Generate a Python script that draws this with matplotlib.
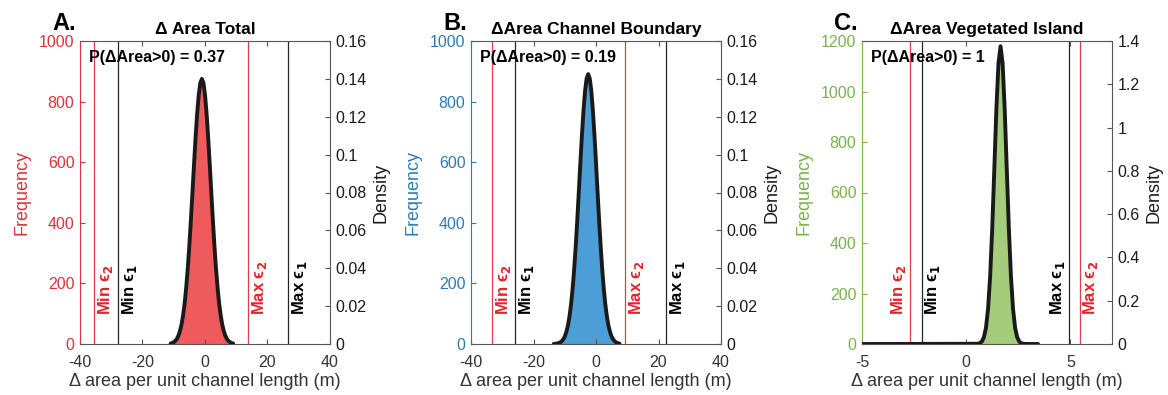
import numpy as np
import matplotlib
matplotlib.use("Agg")
import matplotlib.pyplot as plt
from matplotlib.ticker import FixedLocator, FixedFormatter

plt.rcParams['font.family'] = ['Liberation Sans', 'DejaVu Sans']
plt.rcParams['mathtext.fontset'] = 'dejavusans'
plt.rcParams['axes.unicode_minus'] = False

# ---- panel A : total area change ----
a_centers = np.arange(-11.0, 9.01, 0.5)
a_counts = [2, 4, 6, 11, 17, 27, 44, 66, 95, 137, 187, 254, 325, 414, 501, 598,
            682, 765, 820, 864, 873, 860, 824, 759, 686, 594, 505, 410, 329, 250,
            189, 135, 97, 64, 43, 29, 16, 10, 6, 3, 2]
a_density = [0.0003, 0.0005, 0.001, 0.0016, 0.0027, 0.0044, 0.0069, 0.0104, 0.0153,
             0.0217, 0.0301, 0.0403, 0.0523, 0.0659, 0.0805, 0.0953, 0.1095, 0.1219,
             0.1316, 0.1379, 0.140, 0.1379, 0.1316, 0.1219, 0.1095, 0.0953, 0.0805,
             0.0659, 0.0523, 0.0403, 0.0301, 0.0217, 0.0153, 0.0104, 0.0069, 0.0044,
             0.0027, 0.0016, 0.001, 0.0005, 0.0003]
a_eps = [-35.4, -27.7, 13.9, 26.7]
a_prob = "0.37"

# ---- panel B : channel boundary ----
b_centers = np.arange(-13.5, 7.51, 0.5)
b_counts = [0, 1, 2, 3, 5, 9, 15, 24, 39, 60, 90, 129, 181, 245, 321, 408, 502, 598,
            690, 771, 836, 876, 891, 876, 836, 771, 690, 598, 502, 408, 321, 245,
            181, 129, 90, 60, 39, 24, 15, 9, 5, 3, 2]
b_density = [0.00007, 0.00013, 0.00024, 0.00045, 0.0008, 0.0014, 0.0024, 0.0039,
             0.0063, 0.0096, 0.0144, 0.0207, 0.0289, 0.0392, 0.0514, 0.0652, 0.0803,
             0.0957, 0.1104, 0.1234, 0.1337, 0.1402, 0.1425, 0.1402, 0.1337, 0.1234,
             0.1104, 0.0957, 0.0803, 0.0652, 0.0514, 0.0392, 0.0289, 0.0207, 0.0144,
             0.0096, 0.0063, 0.0039, 0.0024, 0.0014, 0.0008, 0.00045, 0.00024]
b_eps = [-33.2, -25.8, 9.3, 22.4]
b_prob = "0.19"

# ---- panel C : vegetated island ----
c_centers = np.arange(0.55, 2.851, 0.1)
c_counts = [1, 3, 10, 26, 64, 139, 267, 455, 690, 930, 1111, 1179,
            1111, 930, 690, 455, 267, 139, 64, 26, 10, 3, 1, 0]
c_density = [0.001, 0.0036, 0.0111, 0.0306, 0.0747, 0.1618, 0.3113, 0.5314, 0.8056,
             1.0846, 1.2963, 1.3757, 1.2963, 1.0846, 0.8056, 0.5314, 0.3113, 0.1618,
             0.0747, 0.0306, 0.0111, 0.0036, 0.001, 0.0003]
c_curve_range = [-5.0, 3.45]
c_eps = [-2.70, -2.14, 4.93, 5.44]
c_prob = "1"

eps_labels = [r'Min ϵ$_\mathbf{2}$', r'Min ϵ$_\mathbf{1}$', r'Max ϵ$_\mathbf{2}$', r'Max ϵ$_\mathbf{1}$']
c_eps_labels = [r'Min ϵ$_\mathbf{2}$', r'Min ϵ$_\mathbf{1}$', r'Max ϵ$_\mathbf{1}$', r'Max ϵ$_\mathbf{2}$']

RED_LINE = '#d9414a'
RED_TEXT = '#e3242b'
DARK = '#262626'
SPINE = '#555555'

panels = [
    dict(letter='A.', title='Δ Area Total', centers=a_centers, width=0.5,
         counts=a_counts, dens=a_density, curve_x=None, eps=a_eps, labels=eps_labels,
         eps_red=[True, False, True, False], sides=[1, 1, 1, 1], prob=a_prob,
         fill='#ef5a5c', axcol='#d8333b', xlim=(-40, 40), xticks=[-40, -20, 0, 20, 40],
         ylim=1000, yticks=[0, 200, 400, 600, 800, 1000], dlim=0.16,
         dticks=[0, 0.02, 0.04, 0.06, 0.08, 0.1, 0.12, 0.14, 0.16],
         dlabels=['0', '0.02', '0.04', '0.06', '0.08', '0.1', '0.12', '0.14', '0.16'],
         left=80),
    dict(letter='B.', title='ΔArea Channel Boundary', centers=b_centers, width=0.5,
         counts=b_counts, dens=b_density, curve_x=None, eps=b_eps, labels=eps_labels,
         eps_red=[True, False, True, False], sides=[1, 1, 1, 1], prob=b_prob,
         fill='#4d9ed6', axcol='#2a7bb3', xlim=(-40, 40), xticks=[-40, -20, 0, 20, 40],
         ylim=1000, yticks=[0, 200, 400, 600, 800, 1000], dlim=0.16,
         dticks=[0, 0.02, 0.04, 0.06, 0.08, 0.1, 0.12, 0.14, 0.16],
         dlabels=['0', '0.02', '0.04', '0.06', '0.08', '0.1', '0.12', '0.14', '0.16'],
         left=471),
    dict(letter='C.', title='ΔArea Vegetated Island', centers=c_centers, width=0.1,
         counts=c_counts, dens=c_density, curve_x=c_curve_range, eps=c_eps, labels=c_eps_labels,
         eps_red=[True, False, False, True], sides=[-1, 1, -1, 1], prob=c_prob,
         fill='#a4cc7a', axcol='#79b24a', xlim=(-5, 7), xticks=[-5, 0, 5],
         ylim=1200, yticks=[0, 200, 400, 600, 800, 1000, 1200], dlim=1.4,
         dticks=[0, 0.2, 0.4, 0.6, 0.8, 1.0, 1.2, 1.4],
         dlabels=['0', '0.2', '0.4', '0.6', '0.8', '1', '1.2', '1.4'],
         left=862),
]

W, H = 1168, 395
fig = plt.figure(figsize=(W / 100, H / 100), dpi=100)

for p in panels:
    ax = fig.add_axes([p['left'] / W, (H - 344) / H, 250 / W, 303 / H])
    ax2 = ax.twinx()

    # histogram
    centers = np.asarray(p['centers'])
    edges = np.append(centers - p['width'] / 2, centers[-1] + p['width'] / 2)
    ax.stairs(p['counts'], edges, fill=True, color=p['fill'], lw=0)

    # epsilon lines and labels
    for xv, lab, red, side in zip(p['eps'], p['labels'], p['eps_red'], p['sides']):
        ax.axvline(xv, color=RED_LINE if red else DARK, lw=0.9, zorder=1)
        ax.annotate(lab, xy=(xv, 0.095), xycoords=('data', 'axes fraction'),
                    xytext=(1.2 * side, 0), textcoords='offset points',
                    rotation=90, ha='left' if side > 0 else 'right', va='bottom',
                    fontsize=12, fontweight='bold',
                    color=RED_TEXT if red else 'black')

    # density curve
    cx = centers
    cy = list(p['dens'])
    if p['curve_x'] is not None:
        cx = np.concatenate([[p['curve_x'][0]], centers, [p['curve_x'][1]]])
        cy = [0.0] + cy + [0.0]
    ax2.plot(cx, cy, color='#1a1a1a', lw=2.8, solid_capstyle='round')

    ax.set_xlim(*p['xlim'])
    ax.set_ylim(0, p['ylim'])
    ax2.set_ylim(0, p['dlim'])
    ax.set_xticks(p['xticks'])
    ax.set_yticks(p['yticks'])
    ax2.yaxis.set_major_locator(FixedLocator(p['dticks']))
    ax2.yaxis.set_major_formatter(FixedFormatter(p['dlabels']))

    ax.tick_params(axis='x', direction='in', top=True, length=3.5, labelsize=11.5,
                   colors=SPINE, labelcolor='#333333', pad=8)
    ax.tick_params(axis='y', direction='in', length=3.5, labelsize=11.5,
                   colors=p['axcol'], pad=4)
    ax2.tick_params(axis='y', direction='in', length=3.5, labelsize=11.5,
                    colors=SPINE, labelcolor='#1a1a1a', pad=4)

    for s in ['top', 'bottom']:
        ax.spines[s].set_color(SPINE)
    ax.spines['left'].set_color(p['axcol'])
    ax.spines['right'].set_visible(False)
    for s in ['top', 'bottom', 'left']:
        ax2.spines[s].set_visible(False)
    ax2.spines['right'].set_color(SPINE)

    ax.set_ylabel('Frequency', color=p['axcol'], fontsize=13, labelpad=6)
    ax2.set_ylabel('Density', color='#1a1a1a', fontsize=13, labelpad=4)
    ax.set_xlabel('Δ area per unit channel length (m)', fontsize=13,
                  color='#333333', labelpad=2)
    ax.set_title(p['title'], fontsize=12.5, fontweight='bold', pad=5)

    ax2.text(0.036, 0.947, 'P(ΔArea>0) = ' + p['prob'], transform=ax.transAxes,
             ha='left', va='center', fontsize=11.5, fontweight='bold')

    fig.text((p['left'] - 28) / W, 1 - 24 / H, p['letter'], fontsize=17,
             fontweight='bold', ha='left', va='center')

fig.savefig('out.png', dpi=100)
